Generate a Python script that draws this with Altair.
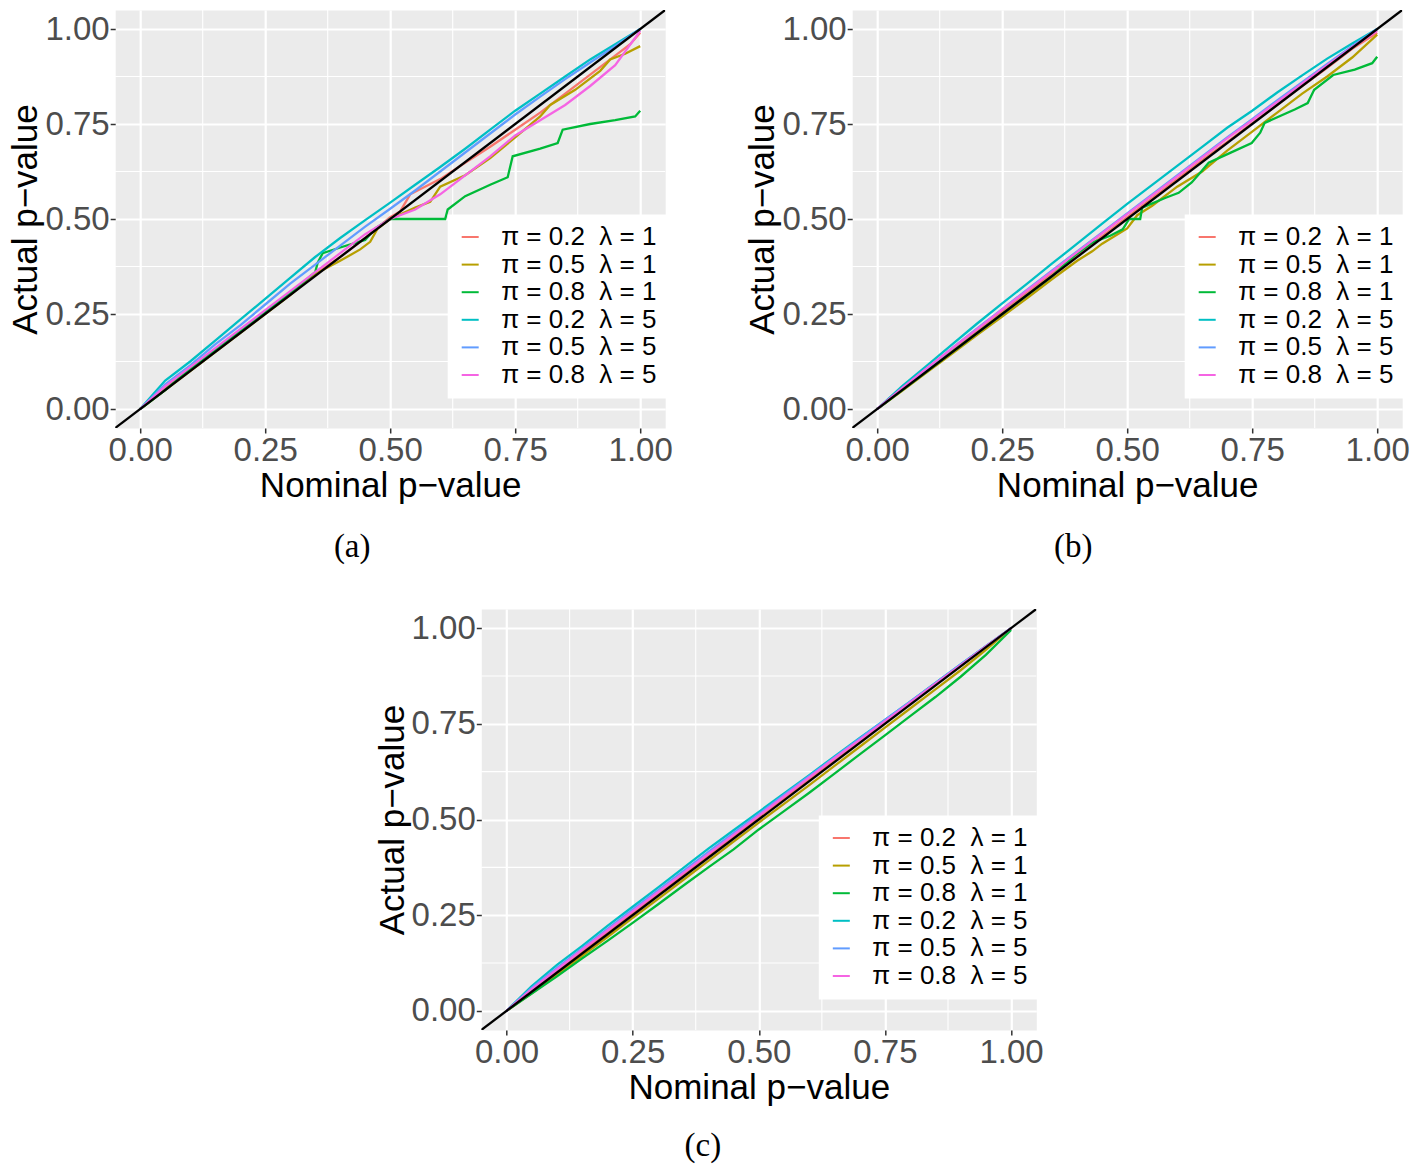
import altair as alt
import pandas as pd

LABELS = ["π = 0.2\u00a0\u00a0λ = 1", "π = 0.5\u00a0\u00a0λ = 1", "π = 0.8\u00a0\u00a0λ = 1",
          "π = 0.2\u00a0\u00a0λ = 5", "π = 0.5\u00a0\u00a0λ = 5", "π = 0.8\u00a0\u00a0λ = 5"]
COLORS = ["#F8766D", "#B79F00", "#00BA38", "#00BFC4", "#619CFF", "#F564E3"]
TICKS = [0.0, 0.25, 0.5, 0.75, 1.0]
MINOR = [0.125, 0.375, 0.625, 0.875]
DIAG = [-0.05, 1.05]
GRID = [0.0, 0.05, 0.1, 0.15, 0.2, 0.25, 0.3, 0.35, 0.4, 0.45, 0.5,
        0.55, 0.6, 0.65, 0.7, 0.75, 0.8, 0.85, 0.9, 0.95, 1.0]

# ---------------- panel (a) ----------------
A_SALMON_X = [0, .05, .1, .15, .2, .25, .3, .35, .4, .45, .5, .52, .54, .6, .65, .7, .75, .8, .85, .9, .95, .98, 1.0]
A_SALMON_Y = [0, .055, .105, .155, .205, .255, .305, .355, .40, .45, .505, .52, .565, .605, .648, .69, .735, .78, .83, .88, .93, .96, .99]
A_OLIVE_X = [0, .05, .1, .15, .2, .25, .3, .35, .4, .44, .46, .475, .5, .55, .58, .6, .65, .7, .75, .8, .82, .87, .92, .94, .97, 1.0]
A_OLIVE_Y = [0, .05, .1, .15, .2, .25, .3, .355, .39, .42, .44, .475, .50, .53, .545, .585, .615, .66, .715, .77, .80, .84, .89, .92, .935, .955]
A_GREEN_X = [0, .05, .1, .15, .2, .25, .3, .35, .355, .365, .4, .45, .47, .5, .61, .615, .65, .7, .735, .745,
             .8, .835, .845, .9, .95, .99, 1.0]
A_GREEN_Y = [0, .05, .105, .155, .205, .255, .305, .36, .385, .41, .425, .445, .475, .5, .5, .525, .56, .59, .61, .665,
             .685, .70, .735, .75, .76, .77, .785]
A_CYAN_Y = [0, .075, .125, .18, .235, .29, .345, .40, .45, .497, .543, .59, .637, .685, .735, .785, .83, .875, .92, .96, 1.0]
A_BLUE_Y = [0, .065, .115, .17, .22, .275, .33, .38, .43, .48, .527, .575, .625, .675, .725, .775, .822, .868, .912, .955, 1.0]
A_PINK_Y = [0, .06, .11, .16, .21, .26, .31, .36, .41, .46, .50, .525, .565, .615, .665, .72, .76, .80, .85, .905, .995]

# ---------------- panel (b) ----------------
B_SALMON_Y = [0, .053, .104, .155, .206, .256, .306, .356, .405, .455, .505, .555, .605, .655, .703, .752, .80, .85, .898, .948, .99]
B_OLIVE_X = [0, .05, .1, .15, .2, .25, .3, .35, .4, .43, .45, .5, .52, .55, .6, .65, .7, .75, .8, .85, .9, .95, 1.0]
B_OLIVE_Y = [0, .048, .097, .146, .195, .243, .292, .342, .39, .415, .435, .475, .51, .535, .585, .625, .68, .73, .78, .83, .875, .925, .985]
B_GREEN_X = [0, .05, .1, .15, .2, .25, .3, .35, .396, .43, .466, .491, .504, .526, .53, .577, .603, .629, .646, .663,
             .706, .749, .766, .775, .835, .861, .874, .912, .955, .99, 1.0]
B_GREEN_Y = [0, .05, .1, .15, .2, .25, .3, .35, .405, .438, .456, .473, .50, .50, .53, .556, .569, .596, .622, .648,
             .674, .70, .727, .753, .788, .805, .84, .879, .893, .91, .927]
B_CYAN_Y = [0, .06, .115, .17, .225, .278, .33, .383, .435, .488, .54, .59, .64, .69, .74, .785, .833, .878, .922, .962, 1.0]
B_BLUE_Y = [0, .055, .107, .16, .212, .263, .314, .365, .415, .465, .515, .565, .615, .665, .715, .763, .812, .86, .908, .955, 1.0]
B_PINK_Y = [0, .055, .108, .16, .21, .262, .312, .362, .413, .463, .513, .562, .612, .662, .712, .76, .808, .857, .905, .952, .995]

# ---------------- panel (c) ----------------
C_SALMON_Y = [0, .054, .105, .155, .205, .255, .305, .355, .405, .455, .505, .555, .605, .654, .703, .753, .803, .852, .901, .951, 1.0]
C_OLIVE_Y = [0, .046, .095, .144, .193, .243, .292, .342, .392, .442, .492, .541, .59, .64, .69, .74, .79, .84, .89, .943, 1.0]
C_GREEN_Y = [0, .045, .09, .137, .183, .23, .278, .327, .375, .422, .474, .522, .57, .62, .67, .72, .77, .82, .873, .93, .995]
C_CYAN_Y = [0, .065, .12, .17, .222, .272, .322, .373, .424, .472, .52, .568, .616, .665, .713, .76, .808, .857, .905, .953, 1.0]
C_BLUE_Y = [0, .06, .112, .163, .214, .265, .315, .365, .415, .465, .514, .564, .613, .662, .711, .76, .808, .856, .905, .953, 1.0]
C_PINK_Y = [0, .057, .108, .16, .21, .26, .31, .36, .41, .46, .51, .56, .61, .66, .708, .757, .806, .855, .903, .952, 1.0]

FONT = "Liberation Sans"


def build_df(series):
    rows = []
    for lab, xs, ys in series:
        for x, y in zip(xs, ys):
            rows.append({"x": x, "y": y, "series": lab})
    return pd.DataFrame(rows)


def panel(series, caption, dx, pw, ph, lx, ly, cap_off):
    df = build_df(series)
    xs = alt.Scale(domain=DIAG, nice=False, zero=False)
    ys = alt.Scale(domain=DIAG, nice=False, zero=False)
    xaxis = alt.Axis(values=TICKS, format=".2f", title="Nominal p\u2212value", labelFlush=False,
                     labelOverlap=False)
    yaxis = alt.Axis(values=TICKS, format=".2f", title="Actual p\u2212value", labelOverlap=False)
    minor = pd.DataFrame({"x": MINOR, "y": MINOR})
    vminor = alt.Chart(minor).mark_rule(color="white", strokeWidth=1.1).encode(
        x=alt.X("x:Q", scale=xs, axis=xaxis))
    hminor = alt.Chart(minor).mark_rule(color="white", strokeWidth=1.1).encode(
        y=alt.Y("y:Q", scale=ys, axis=yaxis))
    lines = alt.Chart(df).mark_line(strokeWidth=2.3, clip=True).encode(
        x=alt.X("x:Q", scale=xs, axis=xaxis),
        y=alt.Y("y:Q", scale=ys, axis=yaxis),
        color=alt.Color("series:N", scale=alt.Scale(domain=LABELS, range=COLORS),
                        legend=alt.Legend(title=None, orient="none", legendX=lx, legendY=ly,
                                          symbolType="stroke", symbolSize=289, symbolStrokeWidth=2,
                                          labelFontSize=26, labelFont=FONT, labelColor="black",
                                          labelLimit=300, fillColor="white", padding=10,
                                          rowPadding=1.6, labelOffset=18)),
        detail="series:N",
    )
    diag = alt.Chart(pd.DataFrame({"x": DIAG, "y": DIAG})).mark_line(
        color="black", strokeWidth=2.3, clip=True).encode(
        x=alt.X("x:Q", scale=xs, axis=xaxis), y=alt.Y("y:Q", scale=ys, axis=yaxis))
    return alt.layer(vminor, hminor, lines, diag).properties(
        width=pw, height=ph,
        title=alt.TitleParams(text=caption, orient="bottom", font="Liberation Serif", fontSize=33,
                              fontWeight="normal", color="black", offset=cap_off, dx=dx,
                              anchor="middle", frame="group"))


pa = panel([
    (LABELS[0], A_SALMON_X, A_SALMON_Y),
    (LABELS[1], A_OLIVE_X, A_OLIVE_Y),
    (LABELS[2], A_GREEN_X, A_GREEN_Y),
    (LABELS[3], GRID, A_CYAN_Y),
    (LABELS[4], GRID, A_BLUE_Y),
    (LABELS[5], GRID, A_PINK_Y),
], "(a)", -38, 550, 418, 332, 204, 28)

pb = panel([
    (LABELS[0], GRID, B_SALMON_Y),
    (LABELS[1], B_OLIVE_X, B_OLIVE_Y),
    (LABELS[2], B_GREEN_X, B_GREEN_Y),
    (LABELS[3], GRID, B_CYAN_Y),
    (LABELS[4], GRID, B_BLUE_Y),
    (LABELS[5], GRID, B_PINK_Y),
], "(b)", -54, 550, 418, 332, 204, 28)

pc = panel([
    (LABELS[0], GRID, C_SALMON_Y),
    (LABELS[1], GRID, C_OLIVE_Y),
    (LABELS[2], GRID, C_GREEN_Y),
    (LABELS[3], GRID, C_CYAN_Y),
    (LABELS[4], GRID, C_BLUE_Y),
    (LABELS[5], GRID, C_PINK_Y),
], "(c)", -56, 555, 421, 337, 206, 25)

top = alt.hconcat(pa, pb, spacing=72).resolve_scale(color="independent")
chart = alt.vconcat(top, pc, spacing=42, center=True).resolve_scale(color="independent").properties(
    padding={"left": 0, "top": 0, "right": 0, "bottom": 0}
).configure_view(
    fill="#EBEBEB", stroke="transparent"
).configure_axis(
    labelFont=FONT, labelFontSize=33, labelColor="#4D4D4D",
    titleFont=FONT, titleFontSize=35, titleFontWeight="normal", titleColor="black",
    tickColor="#333333", tickSize=5, tickWidth=1.5, domain=False,
    gridColor="white", gridWidth=2.2, labelPadding=1, titlePadding=1,
).configure_legend(
    strokeColor="transparent"
)

chart.save("out.html", embed_options={"renderer": "svg", "actions": False})
